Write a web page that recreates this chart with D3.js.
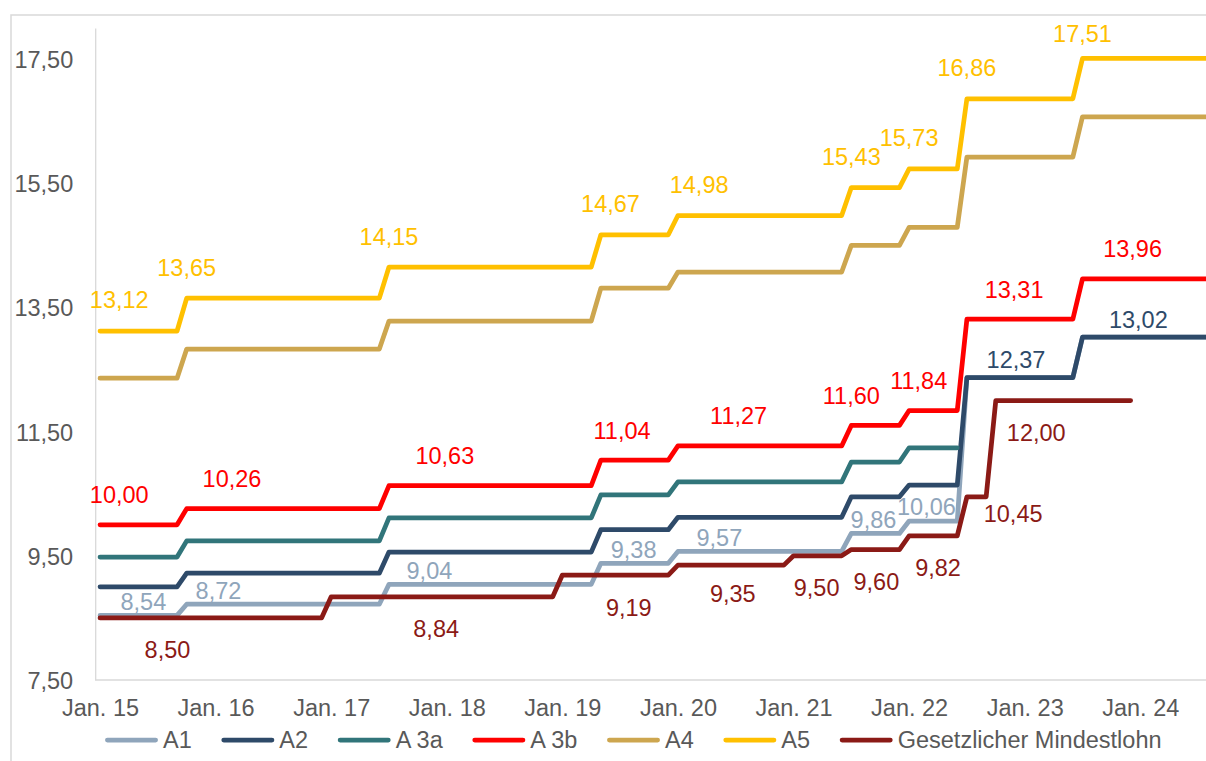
<!DOCTYPE html>
<html>
<head>
<meta charset="utf-8">
<title>Tariflöhne und Mindestlohn</title>
<style>
  body { margin: 0; background: #fff; }
  svg text { font-family: "Liberation Sans", Arial, sans-serif; }
</style>
</head>
<body>
<script src="https://cdn.jsdelivr.net/npm/d3@7"></script>
<script>
// dates at which the tariff groups change
const tarifDates = ["2015-01", "2015-10", "2017-07", "2019-05", "2020-01", "2021-07", "2022-01", "2022-07", "2023-07"];
const tarifEnd = "2024-12";
const a1 = [8.54, 8.72, 9.04, 9.38, 9.57, 9.86, 10.06, 12.37, 13.02];
const a2 = [9.00, 9.22, 9.56, 9.92, 10.12, 10.45, 10.64, 12.37, 13.02];
const a3a = [9.48, 9.74, 10.11, 10.48, 10.69, 11.01, 11.24];
const a3aEnd = "2022-06";
const a3b = [10.00, 10.26, 10.63, 11.04, 11.27, 11.60, 11.84, 13.31, 13.96];
const a4 = [12.36, 12.83, 13.28, 13.81, 14.07, 14.50, 14.79, 15.92, 16.57];
const a5 = [13.12, 13.65, 14.15, 14.67, 14.98, 15.43, 15.73, 16.86, 17.51];

// gesetzlicher Mindestlohn
const mlDates = ["2015-01", "2017-01", "2019-01", "2020-01", "2021-01", "2021-07", "2022-01", "2022-07", "2022-10"];
const mlValues = [8.50, 8.84, 9.19, 9.35, 9.50, 9.60, 9.82, 10.45, 12.00];
const mlEnd = "2023-12";

const seriesNames = ["A1", "A2", "A 3a", "A 3b", "A4", "A5", "Gesetzlicher Mindestlohn"];
const seriesColors = ["#8fa5bb", "#2e4a69", "#31757a", "#ff0000", "#cda64f", "#ffc000", "#8b1a16"];

const xTickLabels = ["Jan. 15", "Jan. 16", "Jan. 17", "Jan. 18", "Jan. 19", "Jan. 20", "Jan. 21", "Jan. 22", "Jan. 23", "Jan. 24"];
const yTicks = [7.5, 9.5, 11.5, 13.5, 15.5, 17.5];

// data labels: date where the label sits, value shown
const labelsA1 = [["2015-05-16", 8.54], ["2016-01-10", 8.72], ["2017-11-07", 9.04], ["2019-08-13", 9.38],
  ["2020-05-10", 9.57], ["2021-09-10", 9.86], ["2022-02-25", 10.06]];
const labelsA2 = [["2022-12-04", 12.37], ["2023-12-25", 13.02]];
const labelsA3b = [["2015-03", 10.00], ["2016-02-22", 10.26], ["2017-12-25", 10.63], ["2019-07-07", 11.04],
  ["2020-07-10", 11.27], ["2021-07", 11.60], ["2022-02", 11.84], ["2022-11-28", 13.31], ["2023-12-07", 13.96]];
const labelsA5 = [["2015-03", 13.12], ["2015-10", 13.65], ["2017-07", 14.15], ["2019-06", 14.67], ["2020-03-07", 14.98],
  ["2021-07", 15.43], ["2022-01", 15.73], ["2022-07", 16.86], ["2023-07", 17.51]];
const labelsMl = [["2015-08", 8.50], ["2017-11-28", 8.84], ["2019-07-28", 9.19], ["2020-06-22", 9.35], ["2021-03-13", 9.50],
  ["2021-09-19", 9.60], ["2022-04", 9.82], ["2022-11-25", 10.45], ["2023-02-07", 12.00]];

const width = 1206, height = 761;
const fontSize = 23.5;
const textColor = "#595959";
const lineWidth = 4.75;

// month index since Jan 2015 (days give a fraction)
const monthIdx = (s) => {
  const p = s.split("-").map(Number);
  return (p[0] - 2015) * 12 + (p[1] - 1) + (p[2] ? (p[2] - 1) / 30 : 0);
};

const de = d3.formatLocale({ decimal: ",", thousands: ".", grouping: [3], currency: ["", " €"] });
const fmt = de.format(".2f");

const svg = d3.select("body").append("svg")
  .attr("width", width)
  .attr("height", height);

// chart border (runs past the picture on the right and bottom)
svg.append("rect")
  .attr("x", 11).attr("y", 15)
  .attr("width", 1400).attr("height", 900)
  .attr("fill", "#fff")
  .attr("stroke", "#d9d9d9")
  .attr("stroke-width", 1.5);

const plotLeft = 95.2, monthW = 9.632;
const x = d3.scaleLinear().domain([-0.5, 119.5]).range([plotLeft, plotLeft + 120 * monthW]);
const y = d3.scaleLinear().domain([7.5, 18]).range([680, 28]);

// axes
const yAxis = svg.append("g")
  .attr("transform", `translate(${plotLeft},0)`)
  .call(d3.axisLeft(y).tickValues(yTicks).tickSize(0).tickPadding(22).tickFormat(fmt));
yAxis.select(".domain").attr("stroke", "#d9d9d9").attr("stroke-width", 1.3);
yAxis.selectAll("text")
  .attr("fill", textColor)
  .attr("font-size", fontSize)
  .attr("dy", "0.36em");

const xAxis = svg.append("g")
  .attr("transform", "translate(0,680)")
  .call(d3.axisBottom(x).tickValues(xTickLabels.map((d, i) => i * 12)).tickSize(0)
    .tickFormat((d, i) => xTickLabels[i]));
xAxis.select(".domain").attr("stroke", "#d9d9d9").attr("stroke-width", 1.3)
  .attr("d", `M${plotLeft},0H${plotLeft + 120 * monthW}`);
xAxis.selectAll("text")
  .attr("fill", textColor)
  .attr("font-size", fontSize)
  .attr("y", 28)
  .attr("dy", "0.36em");

// step series -> points
const stepPoints = (dates, values, end) => {
  const pts = [];
  dates.forEach((dt, i) => {
    const m = monthIdx(dt);
    if (i > 0) pts.push([m - 1, values[i - 1]]);
    pts.push([m, values[i]]);
  });
  pts.push([monthIdx(end), values[values.length - 1]]);
  return pts;
};

const series = [
  stepPoints(tarifDates, a1, tarifEnd),
  stepPoints(tarifDates, a2, tarifEnd),
  stepPoints(tarifDates.slice(0, a3a.length), a3a, a3aEnd),
  stepPoints(tarifDates, a3b, tarifEnd),
  stepPoints(tarifDates, a4, tarifEnd),
  stepPoints(tarifDates, a5, tarifEnd),
  stepPoints(mlDates, mlValues, mlEnd)
];

const line = d3.line().x((d) => x(d[0])).y((d) => y(d[1]));

svg.append("g")
  .selectAll("path")
  .data(series)
  .enter()
  .append("path")
  .attr("d", line)
  .attr("fill", "none")
  .attr("stroke", (d, i) => seriesColors[i])
  .attr("stroke-width", lineWidth)
  .attr("stroke-linecap", "round")
  .attr("stroke-linejoin", "round");

// data labels
const labelSets = [
  { data: labelsA1, color: seriesColors[0], dy: -14 },
  { data: labelsA2, color: seriesColors[1], dy: -18 },
  { data: labelsA3b, color: seriesColors[3], dy: -30 },
  { data: labelsA5, color: seriesColors[5], dy: -31 },
  { data: labelsMl, color: seriesColors[6], dy: 32 }
];
// a few labels were moved by hand in the original
const labelNudge = { "17,51": 6, "9,35": -4, "10,45": -15 };

labelSets.forEach((set) => {
  svg.append("g")
    .selectAll("text")
    .data(set.data)
    .enter()
    .append("text")
    .attr("x", (d) => x(monthIdx(d[0])))
    .attr("y", (d) => y(d[1]) + set.dy + (labelNudge[fmt(d[1])] || 0))
    .attr("dy", "0.36em")
    .attr("text-anchor", "middle")
    .attr("font-size", fontSize)
    .attr("fill", set.color)
    .text((d) => fmt(d[1]));
});

// legend
const legend = svg.append("g").attr("transform", "translate(0,740)");
let lx = 105;
seriesNames.forEach((name, i) => {
  legend.append("line")
    .attr("x1", lx + 2.4).attr("x2", lx + 50.6)
    .attr("stroke", seriesColors[i])
    .attr("stroke-width", lineWidth)
    .attr("stroke-linecap", "round");
  const t = legend.append("text")
    .attr("x", lx + 58)
    .attr("dy", "0.36em")
    .attr("font-size", fontSize)
    .attr("fill", textColor)
    .text(name);
  lx += 58 + t.node().getComputedTextLength() + 29.6;
});
</script>
</body>
</html>
